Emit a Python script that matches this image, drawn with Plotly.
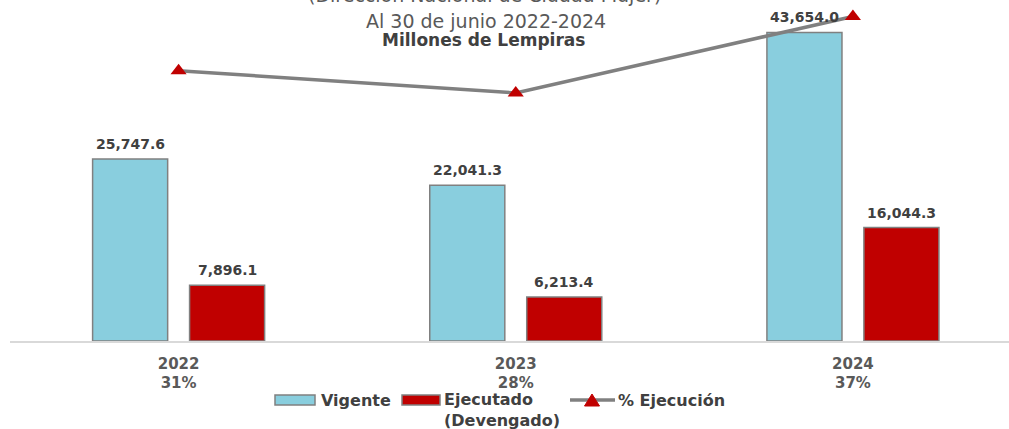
import plotly.graph_objects as go

# ---- data ----
years = ["2022", "2023", "2024"]
pct_labels = ["31%", "28%", "37%"]
vigente = [25747.6, 22041.3, 43654.0]
ejecutado = [7896.1, 6213.4, 16044.3]
pct_ejecucion = [30.7, 28.2, 36.8]

title_lines = ["(Dirección Nacional de Ciudad Mujer)", "Al 30 de junio 2022-2024", "Millones de Lempiras"]
legend_names = ["Vigente", "Ejecutado<br>(Devengado)", "% Ejecución"]

# ---- layout constants ----
W, H = 1009, 429
ML, MR, MT, MB = 10, 0, 0, 88
PW, PH = W - ML - MR, H - MT - MB
FONT = "DejaVu Sans"
C_VIG = "#89CEDE"
C_EJE = "#C00000"
C_EDGE = "#808080"
C_LINE = "#808080"

xpos = list(range(len(years)))
bar_w = 0.2226
off_v = -0.255
off_e = 0.0326

def px2x(px):
    return (px - ML) / PW

def py2y(py):
    return (MT + PH - py) / PH

fig = go.Figure()
fig.add_trace(go.Bar(x=xpos, y=vigente, width=bar_w, offset=off_v, name="Vigente",
                     marker=dict(color=C_VIG, line=dict(color=C_EDGE, width=1.5)),
                     hoverinfo="y", showlegend=False))
fig.add_trace(go.Bar(x=xpos, y=ejecutado, width=bar_w, offset=off_e, name="Ejecutado",
                     marker=dict(color=C_EJE, line=dict(color=C_EDGE, width=1.5)),
                     hoverinfo="y", showlegend=False))
fig.add_trace(go.Scatter(x=xpos, y=pct_ejecucion, yaxis="y2", mode="lines+markers", name="% Ejecución",
                         line=dict(color=C_LINE, width=3.5),
                         marker=dict(symbol="triangle-up", size=14, color=C_EJE),
                         cliponaxis=False, showlegend=False))

annotations = []
for i in xpos:
    for vals, off in ((vigente, off_v), (ejecutado, off_e)):
        annotations.append(dict(x=i + off + bar_w / 2, y=vals[i], xref="x", yref="y",
                                text=f"{vals[i]:,.1f}", showarrow=False, yanchor="bottom",
                                yshift=5, font=dict(family=FONT, size=14, color="#404040", weight="bold")))

# titles
annotations.append(dict(x=px2x(484), y=1, xref="paper", yref="paper", text=title_lines[0],
                        showarrow=False, yanchor="bottom", yshift=-8,
                        font=dict(family=FONT, size=19, color="#595959")))
annotations.append(dict(x=px2x(486), y=py2y(21), xref="paper", yref="paper", text=title_lines[1],
                        showarrow=False, yanchor="middle",
                        font=dict(family=FONT, size=19, color="#595959")))
annotations.append(dict(x=px2x(483), y=py2y(40), xref="paper", yref="paper", text="<b>" + title_lines[2] + "</b>",
                        showarrow=False, yanchor="middle",
                        font=dict(family=FONT, size=17, color="#404040")))

# custom legend
shapes = []
shapes.append(dict(type="rect", xref="paper", yref="paper", x0=px2x(275), x1=px2x(315), y0=py2y(405), y1=py2y(395),
                   fillcolor=C_VIG, line=dict(color=C_EDGE, width=1.5)))
shapes.append(dict(type="rect", xref="paper", yref="paper", x0=px2x(402), x1=px2x(440), y0=py2y(405), y1=py2y(395),
                   fillcolor=C_EJE, line=dict(color=C_EDGE, width=1.5)))
shapes.append(dict(type="line", xref="paper", yref="paper", x0=px2x(570), x1=px2x(615), y0=py2y(400), y1=py2y(400),
                   line=dict(color=C_LINE, width=3.5)))
tx, ty, th, tw = 592, 400, 12, 15
shapes.append(dict(type="path", xref="paper", yref="paper",
                   path=(f"M {px2x(tx - tw / 2)},{py2y(ty + th / 2)} L {px2x(tx + tw / 2)},{py2y(ty + th / 2)} "
                         f"L {px2x(tx)},{py2y(ty - th / 2)} Z"),
                   fillcolor=C_EJE, line=dict(color=C_EJE, width=1)))
legend_font = dict(family=FONT, size=16, color="#404040", weight="bold")
annotations.append(dict(x=px2x(319), y=py2y(400), xref="paper", yref="paper", text=legend_names[0],
                        showarrow=False, xanchor="left", yanchor="middle", font=legend_font))
annotations.append(dict(x=px2x(442), y=py2y(400), xref="paper", yref="paper", text=legend_names[1],
                        showarrow=False, xanchor="left", yanchor="top", yshift=12, align="left",
                        font=legend_font))
annotations.append(dict(x=px2x(616), y=py2y(400), xref="paper", yref="paper", text=legend_names[2],
                        showarrow=False, xanchor="left", yanchor="middle", font=legend_font))

fig.update_layout(
    width=W, height=H,
    margin=dict(l=ML, r=MR, t=MT, b=MB),
    paper_bgcolor="white", plot_bgcolor="white",
    barmode="overlay",
    showlegend=False,
    annotations=annotations,
    shapes=shapes,
    xaxis=dict(range=[-0.5, 2.463], tickvals=xpos,
               ticktext=[f"{y}<br>{p}" for y, p in zip(years, pct_labels)],
               showline=True, linecolor="#D9D9D9", linewidth=1.5, showgrid=False, zeroline=False,
               ticks="", ticklabelstandoff=8,
               tickfont=dict(family=FONT, size=15, color="#595959", weight="bold")),
    yaxis=dict(range=[0, 48240], visible=False, showgrid=False, zeroline=False),
    yaxis2=dict(range=[0.26, 38.66], overlaying="y", visible=False, showgrid=False, zeroline=False),
)

fig.write_html("out.html", config={"displayModeBar": False},
               post_script="document.body.style.margin='0';document.body.style.overflow='hidden';")
